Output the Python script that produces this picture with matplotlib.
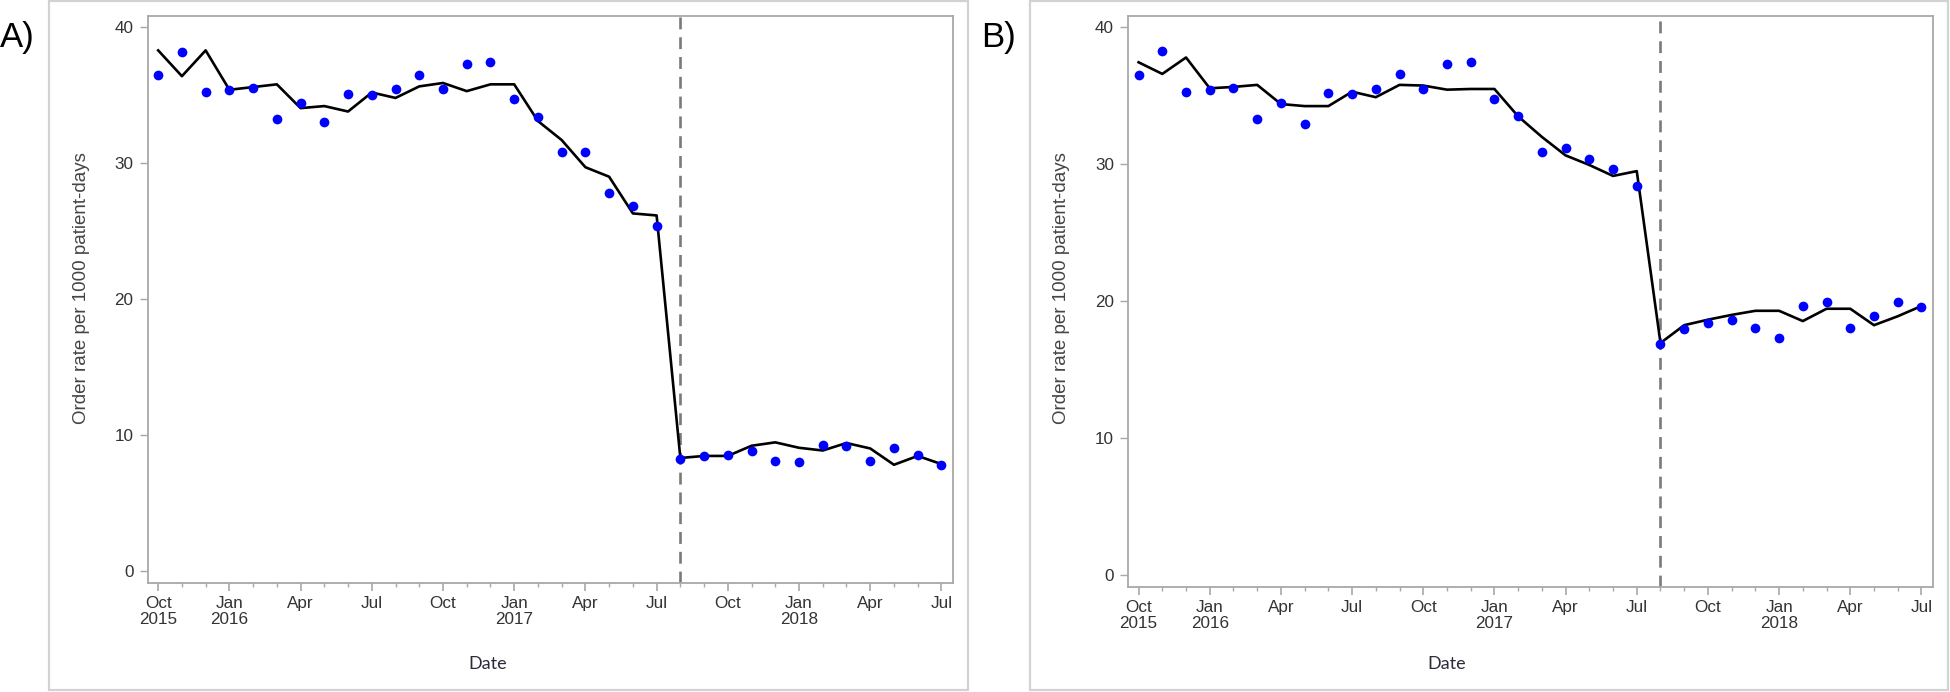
import matplotlib
matplotlib.use("Agg")
import matplotlib.pyplot as plt
from matplotlib.patches import Rectangle

# ---------------- data ----------------
months = list(range(34))  # Oct 2015 .. Jul 2018 (month index)
tick_pos = [0, 3, 6, 9, 12, 15, 18, 21, 24, 27, 30, 33]
tick_labels = ["Oct\n2015", "Jan\n2016", "Apr", "Jul", "Oct", "Jan\n2017",
               "Apr", "Jul", "Oct", "Jan\n2018", "Apr", "Jul"]
intervention = 22  # Aug 2017

a_obs = [36.5, 38.2, 35.25, 35.35, 35.5, 33.25, 34.4, 33.0, 35.1, 35.0, 35.45,
         36.5, 35.45, 37.3, 37.45, 34.7, 33.4, 30.8, 30.85, 27.8, 26.85, 25.4,
         8.2, 8.45, 8.55, 8.8, 8.1, 8.0, 9.25, 9.2, 8.1, 9.05, 8.55, 7.8]
a_fit = [38.3, 36.4, 38.3, 35.4, 35.6, 35.8, 34.05, 34.2, 33.8, 35.2, 34.8,
         35.65, 35.9, 35.3, 35.8, 35.8, 33.1, 31.7, 29.7, 29.0, 26.3, 26.15,
         8.3, 8.45, 8.45, 9.2, 9.45, 9.05, 8.85, 9.4, 9.0, 7.8, 8.45, 7.85]

b_obs = [36.55, 38.25, 35.3, 35.4, 35.6, 33.3, 34.45, 32.95, 35.2, 35.1, 35.5,
         36.6, 35.5, 37.3, 37.5, 34.75, 33.55, 30.9, 31.2, 30.35, 29.65, 28.45,
         16.9, 17.95, 18.4, 18.6, 18.05, 17.3, 19.65, 19.95, 18.05, 18.95, 19.95, 19.55]
b_fit = [37.45, 36.6, 37.8, 35.55, 35.65, 35.8, 34.4, 34.25, 34.25, 35.3, 34.9,
         35.8, 35.75, 35.45, 35.5, 35.5, 33.5, 32.0, 30.65, 29.95, 29.15, 29.5,
         16.95, 18.25, 18.65, 19.0, 19.3, 19.3, 18.55, 19.45, 19.45, 18.25, 18.9, 19.65]

yticks = [0, 10, 20, 30, 40]
ylabel = "Order rate per 1000 patient-days"
xlabel = "Date"

# ---------------- figure ----------------
W, H = 1950, 692
fig = plt.figure(figsize=(W / 100, H / 100), dpi=100)
fig.patch.set_facecolor("white")

tick_font = ["Liberation Sans", "DejaVu Sans"]
label_font = ["Liberation Sans", "DejaVu Sans"]
date_font = ["Lato", "DejaVu Sans"]

spine_col = "#a8a8a8"
txt_col = "#333333"


def px_rect(l, t, r, b):
    return [l / W, 1 - b / H, (r - l) / W, (b - t) / H]


def panel(box, axbox, obs, fit, ylim, ylab_x, date_x, letter, letter_xy):
    # outer panel frame
    l, t, r, b = box
    fig.patches.append(Rectangle((l / W, 1 - b / H), (r - l) / W, (b - t) / H,
                                 transform=fig.transFigure, fill=False,
                                 edgecolor="#d2d2d2", linewidth=1.6))
    ax = fig.add_axes(px_rect(*axbox))
    ax.plot(months, fit, color="black", lw=1.9, zorder=3)
    ax.plot(months, obs, "o", color="#0000ff", ms=7, mec="none", zorder=4)
    ax.axvline(intervention, color="#7a7a7a", lw=1.9, ls=(0, (4.5, 3)), zorder=2)
    ax.set_xlim(-0.45, 33.5)
    ax.set_ylim(*ylim)
    ax.set_yticks(yticks)
    ax.set_yticklabels([str(v) for v in yticks], fontfamily=tick_font,
                       fontsize=12.3, color=txt_col)
    ax.set_xticks(tick_pos)
    ax.set_xticklabels(tick_labels, fontfamily=tick_font, fontsize=12.3,
                       color=txt_col, linespacing=1.1)
    ax.set_xticks(months, minor=True)
    ax.tick_params(axis="x", which="major", length=5.5, width=1.2, color=spine_col, pad=4)
    ax.tick_params(axis="x", which="minor", length=2.8, width=1.0, color=spine_col)
    ax.tick_params(axis="y", which="major", length=6, width=1.0, color=spine_col, pad=4)
    for s in ax.spines.values():
        s.set_color(spine_col)
        s.set_linewidth(1.3)
    fig.text(ylab_x / W, 1 - 288 / H, ylabel, rotation=90, ha="center", va="center",
             fontfamily=label_font, fontsize=13.5, color="#444444")
    fig.text(date_x / W, 1 - 664 / H, xlabel, ha="center", va="center",
             fontfamily=date_font, fontsize=13, color="#2b2b3a")
    fig.text(letter_xy[0] / W, 1 - letter_xy[1] / H, letter, ha="left",
             va="center", fontfamily=label_font, fontsize=25, color="black")
    return ax


panel((49, 1, 968, 690), (147.5, 16, 953.3, 582.7), a_obs, a_fit,
      (-0.88, 40.83), 82, 488, "A)", (0, 38))
panel((1030, 1, 1948, 690), (1127.9, 16, 1933.3, 586.7), b_obs, b_fit,
      (-0.85, 40.83), 1062, 1447, "B)", (981, 38))

fig.savefig("out.png", dpi=100, facecolor="white")
